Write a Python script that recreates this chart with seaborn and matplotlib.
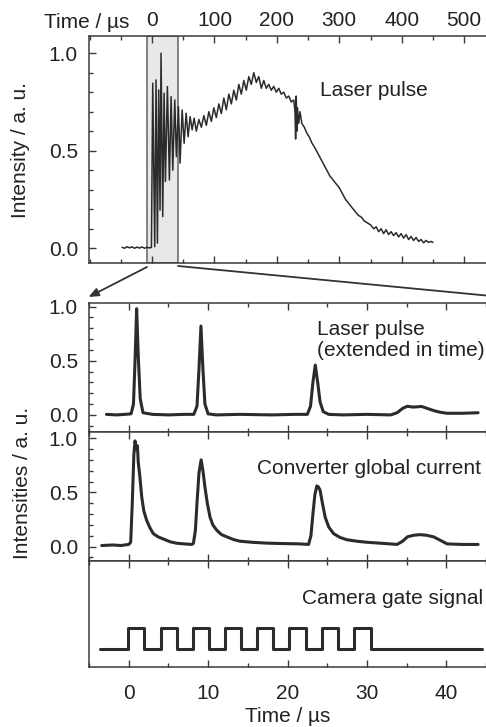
import matplotlib
matplotlib.use("Agg")
import matplotlib.pyplot as plt
from matplotlib.ticker import MultipleLocator, NullLocator
from matplotlib.patches import FancyArrowPatch
from matplotlib.lines import Line2D
import seaborn as sns

# ---------------- data ----------------
# Top panel: full laser pulse (time in µs, intensity a.u.)
t_full = [-48, -44, -40, -36, -32, -28, -24, -20, -16, -12, -8, -4, -1,
          1.1, 4.3, 6.4, 8.6, 10.7, 12.8, 14.4, 17.1, 19.3, 21.4,
          24.6, 27.8, 30.5, 33.2, 36.4, 39.0, 42.3, 44.9, 48.2, 51.4,
          54.6, 57.8, 61.0, 64.2, 67.4,
          71, 75, 79, 83, 87, 91, 95, 99, 103, 107,
          111, 115, 119, 123, 127, 131, 135, 139, 143, 147,
          151, 155, 159, 163, 167, 171, 175, 179, 183, 187,
          191, 195, 199, 203, 207, 211, 215, 219, 223, 227,
          229, 230, 231, 232, 233, 235, 237, 240, 244, 248,
          252, 256, 260, 265, 270, 275, 280, 285, 290, 295,
          300, 305, 310, 315, 320, 325, 330, 335, 340, 345,
          350, 355, 359, 363, 367, 371, 375, 379, 383, 387,
          391, 395, 399, 403, 407, 411, 415, 419, 423, 427,
          431, 435, 439, 443, 447, 450]
i_full = [0.005, 0.0, 0.008, 0.002, 0.007, 0.0, 0.006, 0.001, 0.007, 0.0, 0.005, 0.002, 0.004,
          0.846, 0.008, 0.863, 0.026, 0.812, 0.196, 1.0, 0.162, 0.795, 0.342,
          0.829, 0.35, 0.777, 0.40, 0.76, 0.47, 0.726, 0.436, 0.709, 0.538,
          0.692, 0.572, 0.675, 0.607, 0.667,
          0.60, 0.66, 0.62, 0.68, 0.63, 0.70, 0.65, 0.72, 0.67, 0.74,
          0.69, 0.77, 0.71, 0.79, 0.74, 0.81, 0.76, 0.84, 0.79, 0.86,
          0.81, 0.88, 0.84, 0.90, 0.85, 0.88, 0.82, 0.86, 0.82, 0.84,
          0.81, 0.83, 0.80, 0.82, 0.79, 0.80, 0.77, 0.78, 0.75, 0.76,
          0.70, 0.56, 0.78, 0.60, 0.72, 0.64, 0.70, 0.64, 0.62, 0.59,
          0.57, 0.54, 0.52, 0.49, 0.46, 0.43, 0.40, 0.37, 0.35, 0.33,
          0.31, 0.28, 0.25, 0.23, 0.21, 0.19, 0.17, 0.16, 0.14, 0.13,
          0.12, 0.10, 0.11, 0.085, 0.10, 0.075, 0.095, 0.07, 0.085, 0.065,
          0.08, 0.058, 0.075, 0.052, 0.07, 0.045, 0.06, 0.04, 0.055, 0.035,
          0.045, 0.028, 0.04, 0.03, 0.035, 0.03]

# Panel 2: laser pulse, extended in time
t_laser = [-2.8, -1.5, -0.5, 0.3, 0.6, 0.8, 1.0, 1.2, 1.45, 1.8, 3, 5, 7,
           8.2, 8.6, 8.85, 9.1, 9.35, 9.6, 10.0, 11, 14, 18, 21,
           22.5, 22.9, 23.2, 23.5, 23.8, 24.1, 24.5, 25.2, 27, 30, 33,
           33.8, 34.5, 35.1, 35.8, 36.4, 36.9, 37.6, 38.4, 39.2, 40.1, 42, 44]
i_laser = [0.005, 0.0, 0.005, 0.01, 0.1, 0.5, 0.98, 0.55, 0.15, 0.02, 0.005, 0.0, 0.005,
           0.005, 0.08, 0.42, 0.82, 0.42, 0.1, 0.01, 0.0, 0.005, 0.0, 0.005,
           0.005, 0.08, 0.3, 0.46, 0.3, 0.12, 0.03, 0.005, 0.0, 0.005, 0.0,
           0.02, 0.06, 0.08, 0.072, 0.075, 0.078, 0.06, 0.04, 0.025, 0.015, 0.015, 0.02]

# Panel 3: converter global current
t_conv = [-3.4, -2, -1, 0, 0.25, 0.45, 0.65, 0.8, 0.95, 1.1,
          1.2, 1.4, 1.64, 1.9, 2.27, 2.7, 3.1, 3.7, 4.36, 5.2,
          6.05, 7.0, 7.94, 8.15, 8.4, 8.6, 8.85, 9.12, 9.35, 9.6,
          9.9, 10.25, 10.6, 11.1, 11.7, 12.36, 13.2, 14.0, 15.5, 17.4,
          19.5, 21.6, 22.65, 22.95, 23.2, 23.45, 23.7, 23.9, 24.1, 24.4,
          24.75, 25.2, 25.8, 26.6, 27.5, 28.7, 30.0, 32.0, 33.8, 34.5,
          35.1, 35.9, 36.7, 37.5, 38.4, 39.2, 40.1, 42, 44]
i_conv = [0.01, 0.015, 0.01, 0.02, 0.04, 0.4, 0.85, 0.975, 0.90, 0.93,
          0.78, 0.65, 0.46, 0.33, 0.24, 0.17, 0.12, 0.09, 0.07, 0.045,
          0.031, 0.025, 0.02, 0.03, 0.15, 0.40, 0.68, 0.80, 0.70, 0.55,
          0.40, 0.27, 0.2, 0.15, 0.11, 0.09, 0.065, 0.05, 0.04, 0.032,
          0.028, 0.025, 0.02, 0.1, 0.30, 0.48, 0.56, 0.55, 0.52, 0.40,
          0.27, 0.18, 0.12, 0.085, 0.063, 0.05, 0.04, 0.03, 0.02, 0.05,
          0.09, 0.105, 0.11, 0.105, 0.09, 0.06, 0.025, 0.02, 0.02]

# Panel 4: camera gate signal (0 = closed, 1 = open)
t_gate = [-3.6, -0.05, -0.05, 1.93, 1.93, 4.03, 4.03, 6.05, 6.05, 8.07, 8.07,
          10.1, 10.1, 12.14, 12.14, 14.1, 14.1, 16.2, 16.2, 18.2, 18.2,
          20.25, 20.25, 22.3, 22.3, 24.3, 24.3, 26.4, 26.4, 28.4, 28.4,
          30.5, 30.5, 44.5]
g_gate = [0, 0, 1, 1, 0, 0, 1, 1, 0, 0, 1,
          1, 0, 0, 1, 1, 0, 0, 1, 1, 0,
          0, 1, 1, 0, 0, 1, 1, 0, 0, 1,
          1, 0, 0]

zoom_window = [-8.5, 41.5]   # shaded region in top panel (µs)

labels = {
    "full": "Laser pulse",
    "laser": "Laser pulse\n(extended in time)",
    "conv": "Converter global current",
    "gate": "Camera gate signal",
}

# ---------------- style ----------------
sns.set_theme(style="ticks")
plt.rcParams["font.family"] = ["Liberation Sans", "DejaVu Sans"]
plt.rcParams["font.size"] = 15
TXT = "#222222"
SP = "#3a3a3a"
LINE = "#2b2b2b"
FS = 15

W, H = 486, 727
fig = plt.figure(figsize=(W / 100, H / 100), dpi=100)
fig.patch.set_facecolor("white")

L = 89 / W
R = 486 / W
def rect(top_px, bot_px):
    return [L, 1 - bot_px / H, R - L, (bot_px - top_px) / H]

ax0 = fig.add_axes(rect(36, 262.5))
ax1 = fig.add_axes(rect(303.3, 431.7))
ax2 = fig.add_axes(rect(431.7, 560.7))
ax3 = fig.add_axes(rect(560.7, 666.7))

for ax in (ax0, ax1, ax2, ax3):
    ax.set_facecolor("white")
    for s in ("left", "top", "bottom"):
        ax.spines[s].set_color(SP)
        ax.spines[s].set_linewidth(1.1)
    ax.spines["right"].set_visible(False)
    ax.tick_params(which="both", direction="in", color=SP, width=1.0,
                   labelcolor=TXT, labelsize=FS)
    ax.tick_params(which="major", length=5)
    ax.tick_params(which="minor", length=2.6)

# ---- top panel ----
ax0.axvspan(zoom_window[0], zoom_window[1], facecolor="#e8e8e8",
            edgecolor="#6e6e6e", lw=1.2, zorder=0)
sns.lineplot(x=t_full, y=i_full, ax=ax0, estimator=None, sort=False,
             color=LINE, lw=1.1, zorder=3)
ax0.set_xlim(-101, 535)
ax0.set_ylim(-0.073, 1.088)
ax0.xaxis.set_major_locator(MultipleLocator(100))
ax0.xaxis.set_minor_locator(MultipleLocator(50))
ax0.yaxis.set_major_locator(MultipleLocator(0.5))
ax0.yaxis.set_minor_locator(MultipleLocator(0.1))
ax0.tick_params(axis="x", which="both", top=True, bottom=True,
                labeltop=True, labelbottom=False, pad=4)
ax0.tick_params(axis="y", which="both", left=True, right=False, pad=8)
ax0.set_xticks([0, 100, 200, 300, 400, 500])
ax0.set_xticklabels(["0", "100", "200", "300", "400", "500"])
ax0.yaxis.set_major_formatter(matplotlib.ticker.FormatStrFormatter("%.1f"))
ax0.set_xlabel("")
ax0.set_ylabel("")
ax0.text(269, 0.81, labels["full"], ha="left", va="center", fontsize=FS, color=TXT)

# ---- middle + bottom panels ----
series = [(ax1, t_laser, i_laser), (ax2, t_conv, i_conv), (ax3, t_gate, g_gate)]
for ax, tx, ty in series:
    sns.lineplot(x=tx, y=ty, ax=ax, estimator=None, sort=False,
                 color=LINE, lw=2.2, zorder=3)
    ax.set_xlim(-5, 45)
    ax.xaxis.set_major_locator(MultipleLocator(10))
    ax.xaxis.set_minor_locator(MultipleLocator(5))
    ax.tick_params(axis="x", which="both", top=True, bottom=True,
                   labeltop=False, labelbottom=False)
    ax.set_xlabel("")
    ax.set_ylabel("")

for ax in (ax1, ax2):
    ax.yaxis.set_major_locator(MultipleLocator(0.5))
    ax.yaxis.set_minor_locator(MultipleLocator(0.1))
    ax.tick_params(axis="y", which="both", left=True, right=False, pad=8)
    ax.yaxis.set_major_formatter(matplotlib.ticker.FormatStrFormatter("%.1f"))
ax1.set_ylim(-0.155, 1.03)
ax2.set_ylim(-0.13, 1.06)

ax3.set_ylim(-0.87, 4.25)
ax3.yaxis.set_major_locator(NullLocator())
ax3.yaxis.set_minor_locator(NullLocator())
ax3.tick_params(axis="x", which="both", labelbottom=True, pad=12.5)
ax3.set_xlabel("Time / µs", fontsize=FS, color=TXT, labelpad=3)

ax1.text(23.7, 0.69, labels["laser"], ha="left", va="center", fontsize=FS,
         color=TXT, linespacing=1.15)
ax2.text(16.1, 0.717, labels["conv"], ha="left", va="center", fontsize=FS, color=TXT)
ax3.text(21.8, 2.42, labels["gate"], ha="left", va="center", fontsize=FS, color=TXT)

# ---- figure-level labels ----
fig.text(86.5 / W, 1 - 22 / H, "Time / µs", ha="center", va="center",
         fontsize=FS, color=TXT)
fig.text(21 / W, 1 - 150 / H, "Intensity / a. u.", rotation=90,
         ha="center", va="center", fontsize=FS, color=TXT)
fig.text(23 / W, 1 - 483 / H, "Intensities / a. u.", rotation=90,
         ha="center", va="center", fontsize=FS, color=TXT)

# ---- zoom connector lines ----
def fp(x, y):
    return (x / W, 1 - y / H)

arr = FancyArrowPatch(fp(147, 267), fp(88.5, 297), transform=fig.transFigure,
                      arrowstyle="-|>,head_length=6,head_width=2.5",
                      color="#333333", lw=1.3, shrinkA=0, shrinkB=0)
fig.add_artist(arr)
ln = Line2D([178 / W, 486 / W], [1 - 266 / H, 1 - 295.5 / H],
            transform=fig.transFigure, color="#333333", lw=1.3)
fig.add_artist(ln)

fig.savefig("out.png", dpi=100, facecolor="white")
